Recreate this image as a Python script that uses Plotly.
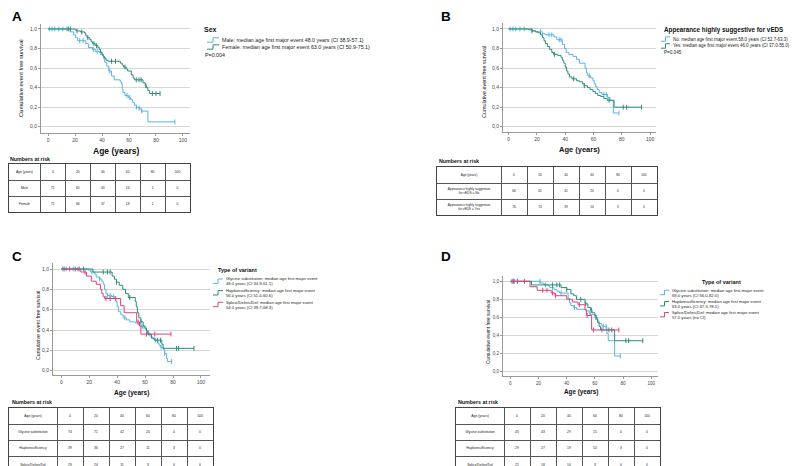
import plotly.graph_objects as go

W, H = 800, 466
FONT = "Liberation Sans, Arial, sans-serif"
BLUE = "#5AB4E5"
TEAL = "#2E8B78"
PINK = "#D8457B"
TXT = "#222222"

# ---------------- Panel A: Sex ----------------
a_male_t = [16.5, 19, 20.5, 22, 28, 30, 33, 35, 38, 40, 41, 42, 43.5, 45, 47, 49, 53.5, 54.5, 55, 55.5,
            57, 59.5, 61, 62.5, 64, 65.5, 67, 69, 74]
a_male_s = [0.97, 0.94, 0.91, 0.88, 0.85, 0.81, 0.79, 0.77, 0.76, 0.73, 0.70, 0.66, 0.62, 0.57, 0.52, 0.48,
            0.46, 0.44, 0.39, 0.35, 0.32, 0.30, 0.28, 0.25, 0.22, 0.20, 0.19, 0.16, 0.05]
a_male_c = [1, 3, 5, 8, 11, 14, 23.5, 26, 33.5, 36.5, 39, 45.7, 58.5, 60.5, 65.5, 67.5, 69.5, 94]
a_fem_t = [20, 21, 24, 27, 28, 29, 31, 32, 33, 35, 37, 38, 39, 40, 41, 42, 43, 44.4, 53.6, 55,
           56, 58, 59, 61.7, 63, 64, 70.4, 72, 73, 74, 75.3]
a_fem_s = [0.99, 0.98, 0.97, 0.96, 0.93, 0.91, 0.89, 0.87, 0.85, 0.83, 0.81, 0.79, 0.76, 0.74, 0.72, 0.70,
           0.68, 0.67, 0.65, 0.63, 0.61, 0.59, 0.57, 0.53, 0.50, 0.48, 0.45, 0.42, 0.40, 0.37, 0.34]
a_fem_c = [15, 16.5, 21.5, 25, 29.5, 34, 36, 47, 50, 57, 65.4, 67.4, 69, 72.5, 77.3, 80, 83]

# ---------------- Panel B: Appearance ----------------
b_no_t = [14, 16, 19, 24, 26, 32, 34, 38, 39.5, 40.7, 42.6, 45.5, 48, 50, 54, 55, 56, 58, 59.6, 60.5,
          61.5, 62.5, 64, 66, 70, 71.7, 74]
b_no_s = [0.99, 0.98, 0.97, 0.95, 0.94, 0.92, 0.89, 0.84, 0.80, 0.76, 0.74, 0.72, 0.69, 0.65, 0.60, 0.55,
          0.52, 0.50, 0.47, 0.44, 0.41, 0.38, 0.35, 0.33, 0.30, 0.27, 0.14]
b_no_c = [1, 3, 5, 8, 11, 22.5, 28.5, 30.5, 35.8, 37, 57, 67.3, 69, 78]
b_yes_t = [16.5, 19, 21, 22.5, 24, 25, 26, 27.4, 29, 30.5, 31.7, 34.6, 37, 38, 39, 40, 41, 41.9, 43, 44.8,
           48, 50, 52.3, 53.3, 55.7, 57.6, 59.6, 61.3, 63, 65, 67.3, 69.7, 74.6]
b_yes_s = [0.98, 0.97, 0.96, 0.94, 0.91, 0.88, 0.85, 0.82, 0.79, 0.76, 0.74, 0.73, 0.71, 0.68, 0.65, 0.61,
           0.57, 0.54, 0.51, 0.49, 0.47, 0.46, 0.44, 0.42, 0.40, 0.38, 0.36, 0.34, 0.32, 0.31, 0.29, 0.27, 0.20]
b_yes_c = [16.5, 32.5, 46, 53.5, 71, 81, 83.5, 94]

# ---------------- Panel C: Type of variant ----------------
c_gly_t = [19, 21, 24, 25, 27.5, 29, 30, 31, 32, 33, 36, 38.3, 39, 40, 41, 42.6, 44.3, 46.6, 49, 53,
           55, 57.4, 59.8, 61, 62.2, 63.4, 65, 67, 69, 70, 71.3, 73, 74, 75.4, 76]
c_gly_s = [0.99, 0.97, 0.95, 0.92, 0.90, 0.88, 0.85, 0.80, 0.76, 0.74, 0.73, 0.71, 0.68, 0.63, 0.58, 0.55,
           0.52, 0.50, 0.48, 0.47, 0.45, 0.43, 0.41, 0.39, 0.37, 0.34, 0.32, 0.30, 0.27, 0.25, 0.23, 0.21,
           0.17, 0.12, 0.09]
c_gly_c = [1, 3.5, 8.5, 13, 22, 27.5, 33, 35, 37.5, 45.5, 58.5, 62.5, 67.5, 71.5, 74, 79]
c_hap_t = [22.7, 36.4, 38, 39.5, 41.5, 44, 46, 48, 53, 53.7, 54.5, 55.5, 57, 58.6, 60, 61, 62, 64.6, 66.5, 72, 73]
c_hap_s = [0.97, 0.93, 0.90, 0.87, 0.84, 0.80, 0.76, 0.72, 0.68, 0.63, 0.57, 0.52, 0.48, 0.44, 0.42, 0.39,
           0.36, 0.32, 0.30, 0.26, 0.22]
c_hap_c = [2, 10, 16, 30, 33, 35, 39.5, 49, 57, 69, 71, 82.5, 84, 95]
c_spl_t = [14, 18, 21.5, 25, 28, 29, 30, 31, 42.5, 45, 54, 56, 57]
c_spl_s = [0.97, 0.93, 0.88, 0.85, 0.80, 0.76, 0.73, 0.71, 0.64, 0.57, 0.48, 0.44, 0.36]
c_spl_c = [6, 12, 17, 32, 35, 39, 55, 61, 67, 78.5]

# ---------------- Panel D: Type of variant ----------------
d_gly_t = [21.5, 24, 27, 28, 31, 33, 35, 41, 42, 43, 45, 47, 54, 56, 57, 60, 62, 63, 65, 68.5, 69.5, 74]
d_gly_s = [0.98, 0.96, 0.95, 0.93, 0.91, 0.89, 0.87, 0.81, 0.76, 0.73, 0.71, 0.69, 0.67, 0.65, 0.63, 0.60,
           0.56, 0.53, 0.50, 0.42, 0.34, 0.17]
d_gly_c = [1, 3, 5, 21, 25, 30, 36, 45.5, 56.5, 60.5, 66, 68, 78]
d_hap_t = [15, 36, 40, 43, 45, 47, 53, 55, 57, 58, 60, 61, 62, 63, 64, 74]
d_hap_s = [0.96, 0.93, 0.91, 0.86, 0.84, 0.80, 0.75, 0.71, 0.68, 0.65, 0.62, 0.58, 0.54, 0.50, 0.46, 0.34]
d_hap_c = [2, 30, 33, 35, 40, 50, 53.5, 57.5, 65, 70, 72, 82, 84, 94]
d_spl_t = [14, 19, 29, 31.7, 40, 44, 48, 53, 54, 57.7]
d_spl_s = [0.94, 0.90, 0.87, 0.84, 0.80, 0.77, 0.74, 0.68, 0.62, 0.46]
d_spl_c = [2, 5, 10, 23, 26, 30, 32, 49, 54.5, 59, 77]

# ---------------- Tables (numbers at risk) ----------------
risk_header = "Age (years)"
risk_ages = ["0", "20", "40", "60", "80", "100"]
a_rows = ["Male", "Female"]
a_risk = [[71, 65, 43, 16, 1, 0], [71, 66, 37, 18, 2, 0]]
b_rows = ["Appearance highly suggestive<br>for vEDS = No", "Appearance highly suggestive<br>for vEDS = Yes"]
b_risk = [[66, 61, 41, 20, 0, 0], [76, 70, 39, 14, 3, 0]]
c_rows = ["Glycine substitution", "Haploinsufficiency", "Splice/Delins/Del"]
c_risk = [[74, 71, 42, 20, 0, 0], [39, 36, 27, 11, 3, 0], [29, 24, 11, 3, 0, 0]]
d_rows = ["Glycine substitution", "Haploinsufficiency", "Splice/Delins/Del"]
d_risk = [[45, 43, 29, 15, 0, 0], [29, 27, 19, 10, 3, 0], [22, 18, 10, 3, 0, 0]]

# ---------------- Legend texts ----------------
a_title = "Sex"
a_labels = ["Male: median age first major event 48.0 years (CI 38.9-57.1)",
            "Female: median age first major event 63.0 years (CI 50.9-75.1)"]
a_p = "P=0.004"
b_title = "Appearance highly suggestive for vEDS"
b_labels = ["No: median age first major event 58.0 years (CI 52.7-63.3)",
            "Yes: median age first major event 46.0 years (CI 37.0-55.0)"]
b_p = "P=0.045"
c_title = "Type of variant"
c_labels = ["Glycine substitution: median age first major event<br>48.0 years (CI 34.9-61.1)",
            "Haploinsufficiency: median age first major event<br>56.0 years (CI 51.4-60.6)",
            "Splice/Delins/Del: median age first major event<br>54.0 years (CI 39.7-68.3)"]
d_title = "Type of variant"
d_labels = ["Glycine substitution: median age first major event<br>69.0 years (CI 56.0-82.0)",
            "Haploinsufficiency: median age first major event<br>63.0 years (CI 47.3-78.1)",
            "Splice/Delins/Del: median age first major event<br>57.0 years (no CI)"]

x_ticks = [0, 20, 40, 60, 80, 100]
y_ticks = [0, 0.2, 0.4, 0.6, 0.8, 1.0]
y_ticktext = ["0,0", "0,2", "0,4", "0,6", "0,8", "1,0"]


def fx(x):
    return x / W


def fy(y):
    return 1 - y / H


def step_at(times, surv, t):
    s = 1.0
    for ti, si in zip(times, surv):
        if ti <= t:
            s = si
        else:
            break
    return s


fig = go.Figure()

panels = [
    ("", (33, 182), (16, 125), [-5.2, 105.2], [-0.064, 1.051],
     [(a_male_t, a_male_s, a_male_c, BLUE), (a_fem_t, a_fem_s, a_fem_c, TEAL)]),
    ("2", (495, 648), (15, 124), [-4.0, 104.2], [-0.054, 1.061],
     [(b_no_t, b_no_s, b_no_c, BLUE), (b_yes_t, b_yes_s, b_yes_c, TEAL)]),
    ("3", (45, 202), (255, 367), [-5.95, 106.5], [-0.042, 1.059],
     [(c_gly_t, c_gly_s, c_gly_c, BLUE), (c_hap_t, c_hap_s, c_hap_c, TEAL), (c_spl_t, c_spl_s, c_spl_c, PINK)]),
    ("4", (495, 650), (268, 368), [-5.2, 104.8], [-0.052, 1.059],
     [(d_gly_t, d_gly_s, d_gly_c, BLUE), (d_hap_t, d_hap_s, d_hap_c, TEAL), (d_spl_t, d_spl_s, d_spl_c, PINK)]),
]

layout_axes = {}
for suf, xd, yd, xr, yr, curves in panels:
    xa = "x" + suf
    ya = "y" + suf
    for times, surv, cens, col in curves:
        end = max(times + cens)
        fig.add_trace(go.Scatter(
            x=[0] + times + [end], y=[1.0] + surv + [surv[-1]],
            mode="lines", line=dict(color=col, width=1, shape="hv"),
            xaxis=xa, yaxis=ya, hoverinfo="skip"))
        fig.add_trace(go.Scatter(
            x=cens, y=[step_at(times, surv, c) for c in cens],
            mode="markers",
            marker=dict(symbol="line-ns-open", size=3.5, color=col, line=dict(color=col, width=1)),
            xaxis=xa, yaxis=ya, hoverinfo="skip"))
    tick_size = 4.6 if suf == "4" else 5
    layout_axes["xaxis" + suf] = dict(
        domain=[fx(xd[0]), fx(xd[1])], range=xr, anchor=ya,
        tickvals=x_ticks, showgrid=False, zeroline=False,
        showline=True, linecolor="#9a9a9a", linewidth=1,
        ticks="outside", ticklen=2, tickcolor="#9a9a9a",
        tickfont=dict(size=tick_size, color="#444", family=FONT))
    layout_axes["yaxis" + suf] = dict(
        domain=[fy(yd[1]), fy(yd[0])], range=yr, anchor=xa,
        tickvals=y_ticks, ticktext=y_ticktext, showgrid=True, gridcolor="#d6d6d6",
        gridwidth=1, zeroline=False, showline=True, linecolor="#9a9a9a", linewidth=1,
        ticks="outside", ticklen=2, tickcolor="#9a9a9a",
        tickfont=dict(size=tick_size, color="#444", family=FONT))

# ---------------- Tables drawn on their own axes ----------------
tables = [
    ("5", a_rows, a_risk, (0.5, 182), 156, 16, [32] + [25] * 6, 3.3),
    ("6", b_rows, b_risk, (429, 649), 159, 16, [64] + [26] * 6, 3.2),
    ("7", c_rows, c_risk, (1, 205), 400, 16.2, [48] + [26] * 6, 3.4),
    ("8", d_rows, d_risk, (448, 652), 400, 16.2, [48] + [26] * 6, 3.4),
]
for suf, rows, risk, xd, ytop, rh, cw, fs in tables:
    xa, ya = "x" + suf, "y" + suf
    nrows = len(rows) + 1
    ybot = ytop + rh * nrows
    bounds = [0]
    for w in cw:
        bounds.append(bounds[-1] + w)
    centers = [(bounds[i] + bounds[i + 1]) / 2 for i in range(len(cw))]
    tx, ty, tt = [], [], []
    header = [risk_header] + risk_ages
    for j, val in enumerate(header):
        tx.append(centers[j]); ty.append(0.5); tt.append(val)
    for i, (lab, vals) in enumerate(zip(rows, risk)):
        tx.append(centers[0]); ty.append(i + 1.5); tt.append(lab)
        for j, v in enumerate(vals):
            tx.append(centers[j + 1]); ty.append(i + 1.5); tt.append(str(v))
    fig.add_trace(go.Scatter(
        x=tx, y=ty, text=tt, mode="text", textposition="middle center",
        textfont=dict(size=fs, color="#1a1a1a", family=FONT),
        xaxis=xa, yaxis=ya, hoverinfo="skip"))
    layout_axes["xaxis" + suf] = dict(
        domain=[fx(xd[0]), fx(xd[1])], range=[0, bounds[-1]], anchor=ya,
        tickvals=bounds[1:-1], showticklabels=False, ticks="",
        showgrid=True, gridcolor="#555", gridwidth=1, zeroline=False,
        showline=True, mirror=True, linecolor="#444", linewidth=1.3)
    layout_axes["yaxis" + suf] = dict(
        domain=[fy(ybot), fy(ytop)], range=[nrows, 0], anchor=xa,
        tickvals=list(range(1, nrows)), showticklabels=False, ticks="",
        showgrid=True, gridcolor="#555", gridwidth=1, zeroline=False,
        showline=True, mirror=True, linecolor="#444", linewidth=1.3)

# ---------------- Annotations ----------------
ann = []


def add_text(x, y, text, size, bold=False, xanchor="left", yanchor="middle", angle=0, color=TXT):
    ann.append(dict(
        x=fx(x), y=fy(y), xref="paper", yref="paper", showarrow=False,
        text=("<b>%s</b>" % text) if bold else text, xanchor=xanchor, yanchor=yanchor,
        textangle=angle, align="left",
        font=dict(size=size, color=color, family=FONT)))


add_text(1.5, 8, "A", 13.5, bold=True, color="#000")
add_text(431, 8, "B", 13.5, bold=True, color="#000")
add_text(1.5, 248, "C", 13.5, bold=True, color="#000")
add_text(431, 248, "D", 13.5, bold=True, color="#000")

add_text(108, 143, "Age (years)", 8.5, bold=True, xanchor="center", color="#111")
add_text(571, 141, "Age (years)", 7.5, bold=True, xanchor="center", color="#111")
add_text(123, 385, "Age (years)", 6.5, bold=True, xanchor="center", color="#111")
add_text(573, 384, "Age (years)", 6.3, bold=True, xanchor="center", color="#111")
ytitle = "Cumulative event free survival"
add_text(13, 70, ytitle, 5.8, xanchor="center", angle=-90, color="#111")
add_text(476, 74, ytitle, 5.4, xanchor="center", angle=-90, color="#111")
add_text(30, 318, ytitle, 5.2, xanchor="center", angle=-90, color="#111")
add_text(480, 324, ytitle, 4.8, xanchor="center", angle=-90, color="#111")

add_text(0, 151, "Numbers at risk", 5.3, bold=True, color="#111")
add_text(429, 153, "Numbers at risk", 5.3, bold=True, color="#111")
add_text(2, 394, "Numbers at risk", 5.3, bold=True, color="#111")
add_text(448, 394, "Numbers at risk", 5.3, bold=True, color="#111")

shapes = []


def legend_icon(x0, x1, yc, col, h=2.2):
    xm = (x0 + x1) / 2
    shapes.append(dict(
        type="path", xref="paper", yref="paper",
        path="M %f,%f L %f,%f L %f,%f L %f,%f" % (fx(x0), fy(yc + h), fx(xm), fy(yc + h),
                                                  fx(xm), fy(yc - h), fx(x1), fy(yc - h)),
        line=dict(color=col, width=1)))


add_text(194, 22, a_title, 7, bold=True, color="#111")
for lab, yy, col in zip(a_labels, [32, 39], [BLUE, TEAL]):
    add_text(212, yy, lab, 5.3)
    legend_icon(199, 211, yy, col)
add_text(194.5, 47, a_p, 5.3)

add_text(654, 22, b_title, 6.3, bold=True, color="#111")
for lab, yy, col in zip(b_labels, [31, 38], [BLUE, TEAL]):
    add_text(663, yy, lab, 4.45)
    legend_icon(653, 662, yy, col)
add_text(654, 45, b_p, 4.6)

add_text(208, 262, c_title, 5.5, bold=True, color="#111")
for lab, yy, col in zip(c_labels, [273.2, 284.8, 296.5], [BLUE, TEAL, PINK]):
    add_text(216, yy, lab, 4.2)
    legend_icon(205, 215, yy, col)

add_text(713, 274, d_title, 5.5, bold=True, xanchor="center", color="#111")
for lab, yy, col in zip(d_labels, [284.5, 295.7, 306.7], [BLUE, TEAL, PINK]):
    add_text(662, yy, lab, 4.2)
    legend_icon(652, 661, yy, col)

fig.update_layout(
    width=W, height=H, margin=dict(l=0, r=0, t=0, b=0),
    paper_bgcolor="white", plot_bgcolor="white", showlegend=False,
    font=dict(family=FONT), annotations=ann, shapes=shapes, **layout_axes)

fig.write_html("out.html")
